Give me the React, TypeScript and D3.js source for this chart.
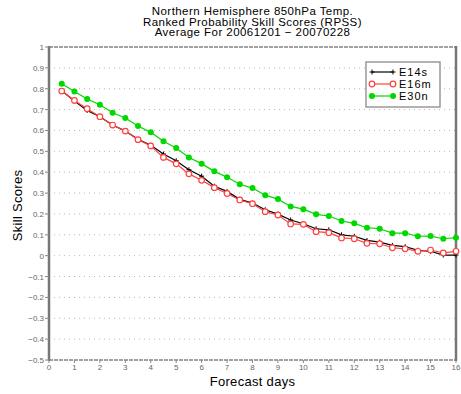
import React from "react";
import { scaleLinear, line, range } from "d3";

// forecast day of each point
const days = range(1, 33).map((i) => i * 0.5);

const e14s = [0.790, 0.741, 0.696, 0.666, 0.626, 0.597, 0.558, 0.529, 0.487, 0.455, 0.412, 0.381, 0.333, 0.308, 0.270, 0.252,
  0.220, 0.199, 0.171, 0.153, 0.129, 0.124, 0.100, 0.093, 0.073, 0.065, 0.049, 0.043, 0.026, 0.021, 0.003, 0.003];
const e16m = [0.789, 0.744, 0.704, 0.666, 0.626, 0.597, 0.556, 0.526, 0.471, 0.440, 0.392, 0.361, 0.326, 0.298, 0.267, 0.249,
  0.211, 0.195, 0.152, 0.150, 0.115, 0.110, 0.085, 0.081, 0.059, 0.057, 0.038, 0.033, 0.021, 0.027, 0.013, 0.021];
const e30n = [0.824, 0.787, 0.751, 0.723, 0.685, 0.660, 0.621, 0.591, 0.548, 0.516, 0.470, 0.441, 0.404, 0.376, 0.342, 0.324,
  0.290, 0.271, 0.236, 0.223, 0.198, 0.190, 0.166, 0.155, 0.134, 0.129, 0.108, 0.108, 0.093, 0.094, 0.081, 0.086];

const yTicks = [1, 0.9, 0.8, 0.7, 0.6, 0.5, 0.4, 0.3, 0.2, 0.1, 0, -0.1, -0.2, -0.3, -0.4, -0.5];
const yTickLabels = ["1", "0.9", "0.8", "0.7", "0.6", "0.5", "0.4", "0.3", "0.2", "0.1", "0", "\u22120.1", "\u22120.2", "\u22120.3", "\u22120.4", "\u22120.5"];
const xTicks = range(0, 17);

const titleLines = ["Northern Hemisphere 850hPa Temp.", "Ranked Probability Skill Scores (RPSS)", "Average For 20061201 \u2212 20070228"];

const series = [
  { name: "E14s", values: e14s, color: "#000000", marker: "plus" },
  { name: "E16m", values: e16m, color: "#ff4040", marker: "open" },
  { name: "E30n", values: e30n, color: "#00d800", marker: "filled" },
];

const font = "'Liberation Sans', Arial, sans-serif";

function Marker({ kind, x, y, color }: { kind: string; x: number; y: number; color: string }) {
  if (kind === "plus") {
    return (
      <path d={`M${x - 2.5},${y}H${x + 2.5}M${x},${y - 2.5}V${y + 2.5}`} stroke={color} strokeWidth={1} />
    );
  }
  if (kind === "open") {
    return <circle cx={x} cy={y} r={2.8} fill="#fff" stroke={color} strokeWidth={1.2} />;
  }
  return <circle cx={x} cy={y} r={3} fill={color} />;
}

export default function App() {
  const width = 461;
  const height = 394;
  const left = 49, right = 456, top = 47, bottom = 360;

  const x = scaleLinear().domain([0, 16]).range([left, right]);
  const y = scaleLinear().domain([-0.5, 1]).range([bottom, top]);

  const lineGen = line<number>()
    .x((_, i) => x(days[i]))
    .y((d) => y(d));

  const cx = (left + right) / 2;

  return (
    <svg width={width} height={height} style={{ position: "absolute", left: 0, top: 0, background: "#fff" }} fontFamily={font}>
      {/* title */}
      {titleLines.map((t, i) => (
        <text key={i} x={cx} y={15 + i * 10.6} textAnchor="middle" fontSize={11.5} letterSpacing={0.45} fill="#000">
          {t}
        </text>
      ))}

      {/* grid */}
      {yTicks.filter((t) => t < 1 && t > -0.5).map((t) => (
        <line key={t} x1={left} x2={right} y1={y(t)} y2={y(t)} stroke="#b8b8b8" strokeDasharray="1,4" />
      ))}

      {/* frame */}
      <line x1={left} x2={right} y1={top} y2={top} stroke="#444" strokeWidth={1.2} strokeDasharray="4,1" />
      <line x1={left} x2={right} y1={bottom} y2={bottom} stroke="#444" strokeWidth={1.2} strokeDasharray="4,1" />
      <line x1={left} x2={left} y1={top - 1} y2={bottom + 1} stroke="#777" strokeWidth={2.5} />
      <line x1={right} x2={right} y1={top - 1} y2={bottom + 1} stroke="#777" strokeWidth={2.5} />

      {/* y ticks */}
      {yTicks.map((t, i) => (
        <g key={t}>
          <line x1={left - 4} x2={left} y1={y(t)} y2={y(t)} stroke="#888" />
          <text x={left - 5} y={y(t) + 3} textAnchor="end" fontSize={8} fill="#666">
            {yTickLabels[i]}
          </text>
        </g>
      ))}

      {/* x ticks */}
      {xTicks.map((t) => (
        <g key={t}>
          <line x1={x(t)} x2={x(t)} y1={bottom} y2={bottom + 3} stroke="#888" />
          <text x={x(t)} y={bottom + 10} textAnchor="middle" fontSize={8} fill="#666">
            {t}
          </text>
        </g>
      ))}

      {/* axis titles */}
      <text x={cx} y={386} textAnchor="middle" fontSize={13} letterSpacing={0.3} fill="#000">Forecast days</text>
      <text transform={`translate(22,${(top + bottom) / 2 + 2}) rotate(-90)`} textAnchor="middle" fontSize={13} letterSpacing={0.3} fill="#000">
        Skill Scores
      </text>

      {/* series */}
      {series.map((s) => (
        <g key={s.name}>
          <path d={lineGen(s.values) || undefined} fill="none" stroke={s.color} strokeWidth={1.2} />
          {s.values.map((v, i) => (
            <Marker key={i} kind={s.marker} x={x(days[i])} y={y(v)} color={s.color} />
          ))}
        </g>
      ))}

      {/* legend */}
      <rect x={366} y={62} width={74} height={45} fill="#fff" stroke="#999" strokeWidth={1.5} />
      {series.map((s, i) => {
        const ly = 72 + i * 12;
        return (
          <g key={s.name}>
            <line x1={372} x2={393} y1={ly} y2={ly} stroke={s.color} strokeWidth={1.2} />
            <Marker kind={s.marker} x={372} y={ly} color={s.color} />
            <Marker kind={s.marker} x={393} y={ly} color={s.color} />
            <text x={399} y={ly + 4} fontSize={11} fill="#000" letterSpacing={1}>
              {s.name}
            </text>
          </g>
        );
      })}
    </svg>
  );
}
